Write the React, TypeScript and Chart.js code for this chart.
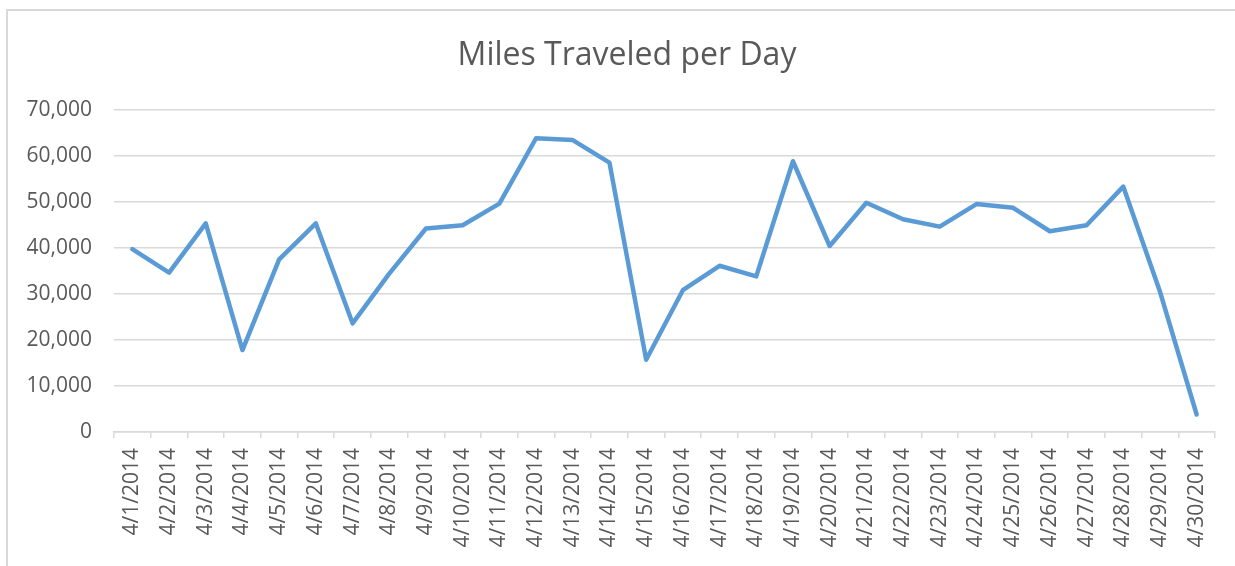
import React, { useEffect, useRef } from "react";
import { Chart, registerables } from "chart.js";

Chart.register(...registerables);

const categories: string[] = [
  "4/1/2014", "4/2/2014", "4/3/2014", "4/4/2014", "4/5/2014", "4/6/2014",
  "4/7/2014", "4/8/2014", "4/9/2014", "4/10/2014", "4/11/2014", "4/12/2014",
  "4/13/2014", "4/14/2014", "4/15/2014", "4/16/2014", "4/17/2014", "4/18/2014",
  "4/19/2014", "4/20/2014", "4/21/2014", "4/22/2014", "4/23/2014", "4/24/2014",
  "4/25/2014", "4/26/2014", "4/27/2014", "4/28/2014", "4/29/2014", "4/30/2014",
];

const milesTraveled: number[] = [
  39700, 34600, 45300, 17800, 37500, 45300, 23600, 34400, 44200, 44900,
  49600, 63800, 63400, 58500, 15700, 30800, 36100, 33800, 58800, 40400,
  49800, 46200, 44600, 49500, 48700, 43600, 44900, 53300, 30500, 3800,
];

const titleText = "Miles Traveled per Day";
const yMin = 0;
const yMax = 70000;
const yStep = 10000;

const TEXT = "#595959";
const GRID = "#d9d9d9";
const LINE = "#5b9bd5";
const FONT = "'Open Sans', 'DejaVu Sans', sans-serif";

export default function App() {
  const ref = useRef<HTMLCanvasElement | null>(null);

  useEffect(() => {
    document.body.style.margin = "0";
    const canvas = ref.current;
    if (!canvas) return;
    const chart = new Chart(canvas, {
      type: "line",
      data: {
        labels: categories,
        datasets: [
          {
            label: "Miles",
            data: milesTraveled,
            borderColor: LINE,
            backgroundColor: LINE,
            borderWidth: 4.5,
            pointRadius: 0,
            tension: 0,
            borderJoinStyle: "round",
            borderCapStyle: "round",
            yAxisID: "y",
          },
        ],
      },
      options: {
        animation: false,
        responsive: false,
        maintainAspectRatio: false,
        layout: { padding: { left: 19, right: 0, top: 0, bottom: 0 } },
        plugins: {
          legend: { display: false },
          tooltip: { enabled: false },
          title: {
            display: true,
            text: titleText,
            color: TEXT,
            font: { family: FONT, size: 32, weight: "normal", lineHeight: 1.2 },
            padding: { top: 36.6, bottom: 34.7 },
          },
        },
        scales: {
          x: {
            offset: true,
            grid: {
              offset: true,
              drawOnChartArea: false,
              drawTicks: true,
              tickLength: 6,
              color: GRID,
              lineWidth: 1.5,
            },
            border: { display: true, color: GRID, width: 1.5 },
            ticks: {
              autoSkip: false,
              maxRotation: 90,
              minRotation: 90,
              color: TEXT,
              padding: 10,
              font: { family: FONT, size: 21 },
            },
            afterFit: (scale: any) => {
              scale.height = 134;
            },
          },
          y: {
            min: yMin,
            max: yMax,
            grid: {
              drawTicks: false,
              color: GRID,
              lineWidth: 1.5,
            },
            border: { display: false },
            ticks: {
              stepSize: yStep,
              color: TEXT,
              padding: 22,
              font: { family: FONT, size: 21 },
              callback: (v: any) => Number(v).toLocaleString("en-US"),
            },
            afterFit: (scale: any) => {
              scale.width = 95;
            },
          },
          yRight: {
            position: "right",
            display: true,
            min: yMin,
            max: yMax,
            grid: { display: false, drawTicks: false },
            border: { display: false },
            ticks: { display: false },
            afterFit: (scale: any) => {
              scale.width = 20;
            },
          },
        },
      },
    });
    return () => chart.destroy();
  }, []);

  return (
    <div style={{ position: "relative", width: 1235, height: 566, overflow: "hidden", background: "#fff" }}>
      <canvas ref={ref} width={1235} height={566} style={{ position: "absolute", left: 0, top: 0 }} />
      <div
        style={{
          position: "absolute",
          left: 6,
          top: 9,
          width: 1300,
          height: 600,
          borderLeft: "2px solid #d9d9d9",
          borderTop: "2px solid #d9d9d9",
          pointerEvents: "none",
        }}
      />
    </div>
  );
}
